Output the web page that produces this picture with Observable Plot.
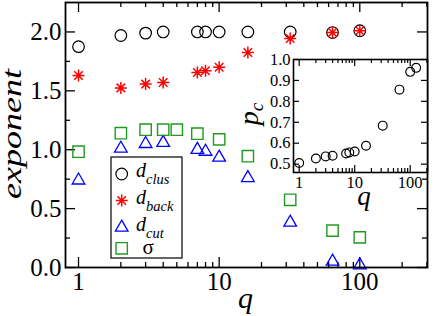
<!DOCTYPE html>
<html><head><meta charset="utf-8">
<script src="https://cdn.jsdelivr.net/npm/d3@7"></script>
<script src="https://cdn.jsdelivr.net/npm/@observablehq/plot@0.6"></script>
<style>
body{margin:0;background:#fff;}
#wrap{position:relative;width:436px;height:316px;overflow:hidden;}
#wrap svg{display:block;}
#inset{position:absolute;left:233px;top:50px;}
</style></head><body><div id="wrap"><div id="main"></div><div id="inset"></div></div>
<script>
// ---- data ----
const q = [1, 2, 3, 4, 7, 8, 10, 16, 32, 64, 100];
const dClus = [1.875, 1.97, 1.99, 2.0, 2.0, 2.0, 2.0, 2.0, 2.0, 1.995, 2.01];
const dBack = [1.63, 1.525, 1.557, 1.571, 1.655, 1.67, 1.70, 1.825, 1.945, 1.995, 2.01];
const dCut = [0.74, 1.01, 1.05, 1.06, 1.0, 0.984, 0.934, 0.761, 0.382, 0.051, 0.02];
const qSigma = [1, 2, 3, 4, 5, 7, 10, 16, 32, 64, 100];
const sigma = [0.983, 1.14, 1.17, 1.17, 1.17, 1.136, 1.088, 0.945, 0.575, 0.313, 0.256];
const qPc = [1, 2, 3, 4, 7, 8, 10, 16, 32, 64, 100, 128];
const pc = [0.505, 0.527, 0.537, 0.54, 0.551, 0.556, 0.56, 0.588, 0.684, 0.856, 0.941, 0.96];
const mainXTicks = [1, 10, 100];
const mainYTicks = [0, 0.5, 1.0, 1.5, 2.0];
const insetXTicks = [1, 10, 100];
const insetYTicks = [0.5, 0.6, 0.7, 0.8, 0.9, 1.0];
const seriesNames = ["clus", "back", "cut", "σ"];
const colors = {clus: "#000000", back: "#ff0000", cut: "#0000ff", sigma: "#1f9a1f"};
const SERIF = '"Liberation Serif", "DejaVu Serif", serif';

// 8-spoke asterisk symbol
const star = {
  draw(ctx, size) {
    const r = Math.sqrt(size / Math.PI);
    for (let i = 0; i < 4; i++) {
      const a = i * Math.PI / 4;
      const dx = r * Math.cos(a), dy = r * Math.sin(a);
      ctx.moveTo(-dx, -dy); ctx.lineTo(dx, dy);
    }
  }
};

function minorLog(lo, hi) {
  const out = [];
  for (let dec = 1; dec <= 1000; dec *= 10)
    for (let k = 2; k <= 9; k++) { const v = k * dec; if (v > lo && v < hi) out.push(v); }
  return out;
}

// ---- main chart ----
const W = 436, H = 316, mL = 65, mR = 9, mT = 2, mB = 49;
const iW = W - mL - mR, iH = H - mT - mB;
const xDom = [0.808, 303];
const yDom = [0, 2.25];
const xMinor = minorLog(xDom[0], xDom[1]);
const yMinor = [0.25, 0.75, 1.25, 1.75];
const tk = {stroke: "black", strokeWidth: 1.3};

const main = Plot.plot({
  width: W, height: H,
  marginLeft: mL, marginRight: mR, marginTop: mT, marginBottom: mB,
  style: {background: "white", color: "black"},
  x: {type: "log", domain: xDom, label: null},
  y: {domain: yDom, label: null},
  marks: [
    Plot.tickX(mainXTicks, {x: d => d, insetTop: iH - 10, ...tk}),
    Plot.tickX(mainXTicks, {x: d => d, insetBottom: iH - 10, ...tk}),
    Plot.tickX(xMinor, {x: d => d, insetTop: iH - 5, ...tk}),
    Plot.tickX(xMinor, {x: d => d, insetBottom: iH - 5, ...tk}),
    Plot.tickY(mainYTicks, {y: d => d, insetRight: iW - 10, ...tk}),
    Plot.tickY(mainYTicks, {y: d => d, insetLeft: iW - 10, ...tk}),
    Plot.tickY(yMinor, {y: d => d, insetRight: iW - 5, ...tk}),
    Plot.tickY(yMinor, {y: d => d, insetLeft: iW - 5, ...tk}),
    Plot.axisX(mainXTicks, {tickSize: 0, tickPadding: 5, fontSize: 25, fontFamily: SERIF, fontVariant: "normal", tickFormat: d => String(d), label: null}),
    Plot.axisY(mainYTicks, {tickSize: 0, tickPadding: 4, fontSize: 25, fontFamily: SERIF, fontVariant: "normal", tickFormat: d3.format(".1f"), label: null}),
    Plot.dot(q, {x: q, y: dClus, symbol: "circle", r: 5.8, stroke: colors.clus, strokeWidth: 1.2, fill: "none"}),
    Plot.dot(q, {x: q, y: dBack, symbol: star, r: 6, stroke: colors.back, strokeWidth: 1.5, fill: "none"}),
    Plot.dot(q, {x: q, y: dCut, symbol: "triangle", r: 4.7, stroke: colors.cut, strokeWidth: 1.3, fill: "none"}),
    Plot.dot(qSigma, {x: qSigma, y: sigma, symbol: "square", r: 6.4, stroke: colors.sigma, strokeWidth: 1.4, fill: "none"}),
    Plot.frame({stroke: "black", strokeWidth: 1.8})
  ]
});
document.getElementById("main").appendChild(main);

const svg = d3.select(main);
// axis titles
svg.append("text").attr("x", 245.5).attr("y", 308).attr("text-anchor", "middle")
  .attr("font-style", "italic").attr("font-size", 30).text("q");
svg.append("text").attr("transform", "translate(21,134) rotate(-90)").attr("text-anchor", "middle")
  .attr("font-style", "italic").attr("font-size", 26.5)
  .attr("textLength", 130).attr("lengthAdjust", "spacingAndGlyphs").text("exponent");

// legend
const lg = svg.append("g");
lg.append("rect").attr("x", 111).attr("y", 157).attr("width", 71).attr("height", 101)
  .attr("fill", "white").attr("stroke", "black").attr("stroke-width", 1.2);
const legendItems = [
  {type: d3.symbolCircle, r: 5.8, color: colors.clus, y: 174, name: seriesNames[0], sw: 1.2},
  {type: star, r: 6, color: colors.back, y: 200.5, name: seriesNames[1], sw: 1.5},
  {type: d3.symbolTriangle, r: 4.7, color: colors.cut, y: 227.5, name: seriesNames[2], sw: 1.3},
  {type: d3.symbolSquare, r: 6.4, color: colors.sigma, y: 248.3, name: seriesNames[3], sw: 1.4}
];
legendItems.forEach((it, i) => {
  lg.append("path").attr("transform", `translate(121.7,${it.y})`)
    .attr("d", d3.symbol().type(it.type).size(Math.PI * it.r * it.r)())
    .attr("fill", "none").attr("stroke", it.color).attr("stroke-width", it.sw);
  if (i < 3) {
    const t = lg.append("text").attr("x", 136).attr("y", it.y + 3).attr("text-anchor", "start")
      .attr("font-style", "italic").attr("font-size", 20);
    t.append("tspan").text("d");
    t.append("tspan").attr("dy", 7).attr("font-size", 14.5).text(it.name);
  } else {
    lg.append("text").attr("x", 142.5).attr("y", it.y + 5.5).attr("text-anchor", "start")
      .attr("font-size", 21).text(it.name);
  }
});
svg.selectAll("text").style("font-family", SERIF, "important");

// ---- inset ----
const IW = 197, IH = 160, iL = 60, iR = 3, iT = 9, iB = 38;
const iiW = IW - iL - iR, iiH = IH - iT - iB;
const ixDom = [0.79, 205];
const iyDom = [0.46, 1.0];
const ixMinor = minorLog(ixDom[0], ixDom[1]);
const itk = {stroke: "black", strokeWidth: 1.2};

const inset = Plot.plot({
  width: IW, height: IH,
  marginLeft: iL, marginRight: iR, marginTop: iT, marginBottom: iB,
  style: {background: "transparent", color: "black", overflow: "visible"},
  x: {type: "log", domain: ixDom, label: null},
  y: {domain: iyDom, label: null},
  marks: [
    Plot.frame({fill: "white", stroke: "none"}),
    Plot.tickX(insetXTicks, {x: d => d, insetTop: iiH - 7, ...itk}),
    Plot.tickX(insetXTicks, {x: d => d, insetBottom: iiH - 7, ...itk}),
    Plot.tickX(ixMinor, {x: d => d, insetTop: iiH - 4, ...itk}),
    Plot.tickX(ixMinor, {x: d => d, insetBottom: iiH - 4, ...itk}),
    Plot.tickY(insetYTicks, {y: d => d, insetRight: iiW - 6, ...itk}),
    Plot.tickY(insetYTicks, {y: d => d, insetLeft: iiW - 6, ...itk}),
    Plot.axisX(insetXTicks, {tickSize: 0, tickPadding: 3.5, fontSize: 16.5, fontFamily: SERIF, fontVariant: "normal", tickFormat: d => String(d), label: null}),
    Plot.axisY(insetYTicks, {tickSize: 0, tickPadding: 3, fontSize: 16.5, fontFamily: SERIF, fontVariant: "normal", tickFormat: d3.format(".1f"), label: null}),
    Plot.dot(qPc, {x: qPc, y: pc, symbol: "circle", r: 4.4, stroke: "black", strokeWidth: 1.2, fill: "none"}),
    Plot.frame({stroke: "black", strokeWidth: 1.6})
  ]
});
document.getElementById("inset").appendChild(inset);
const isvg = d3.select(inset);
isvg.append("text").attr("x", 364 - 233).attr("y", 205 - 50).attr("text-anchor", "middle")
  .attr("font-style", "italic").attr("font-size", 27).text("q");
const pt = isvg.append("text").attr("transform", `translate(${258 - 233},${114 - 50}) rotate(-90)`)
  .attr("text-anchor", "middle").attr("font-style", "italic").attr("font-size", 28);
pt.append("tspan").text("p");
pt.append("tspan").attr("dy", 5).attr("font-size", 19).text("c");
isvg.selectAll("text").style("font-family", SERIF, "important");
</script>
</body></html>
